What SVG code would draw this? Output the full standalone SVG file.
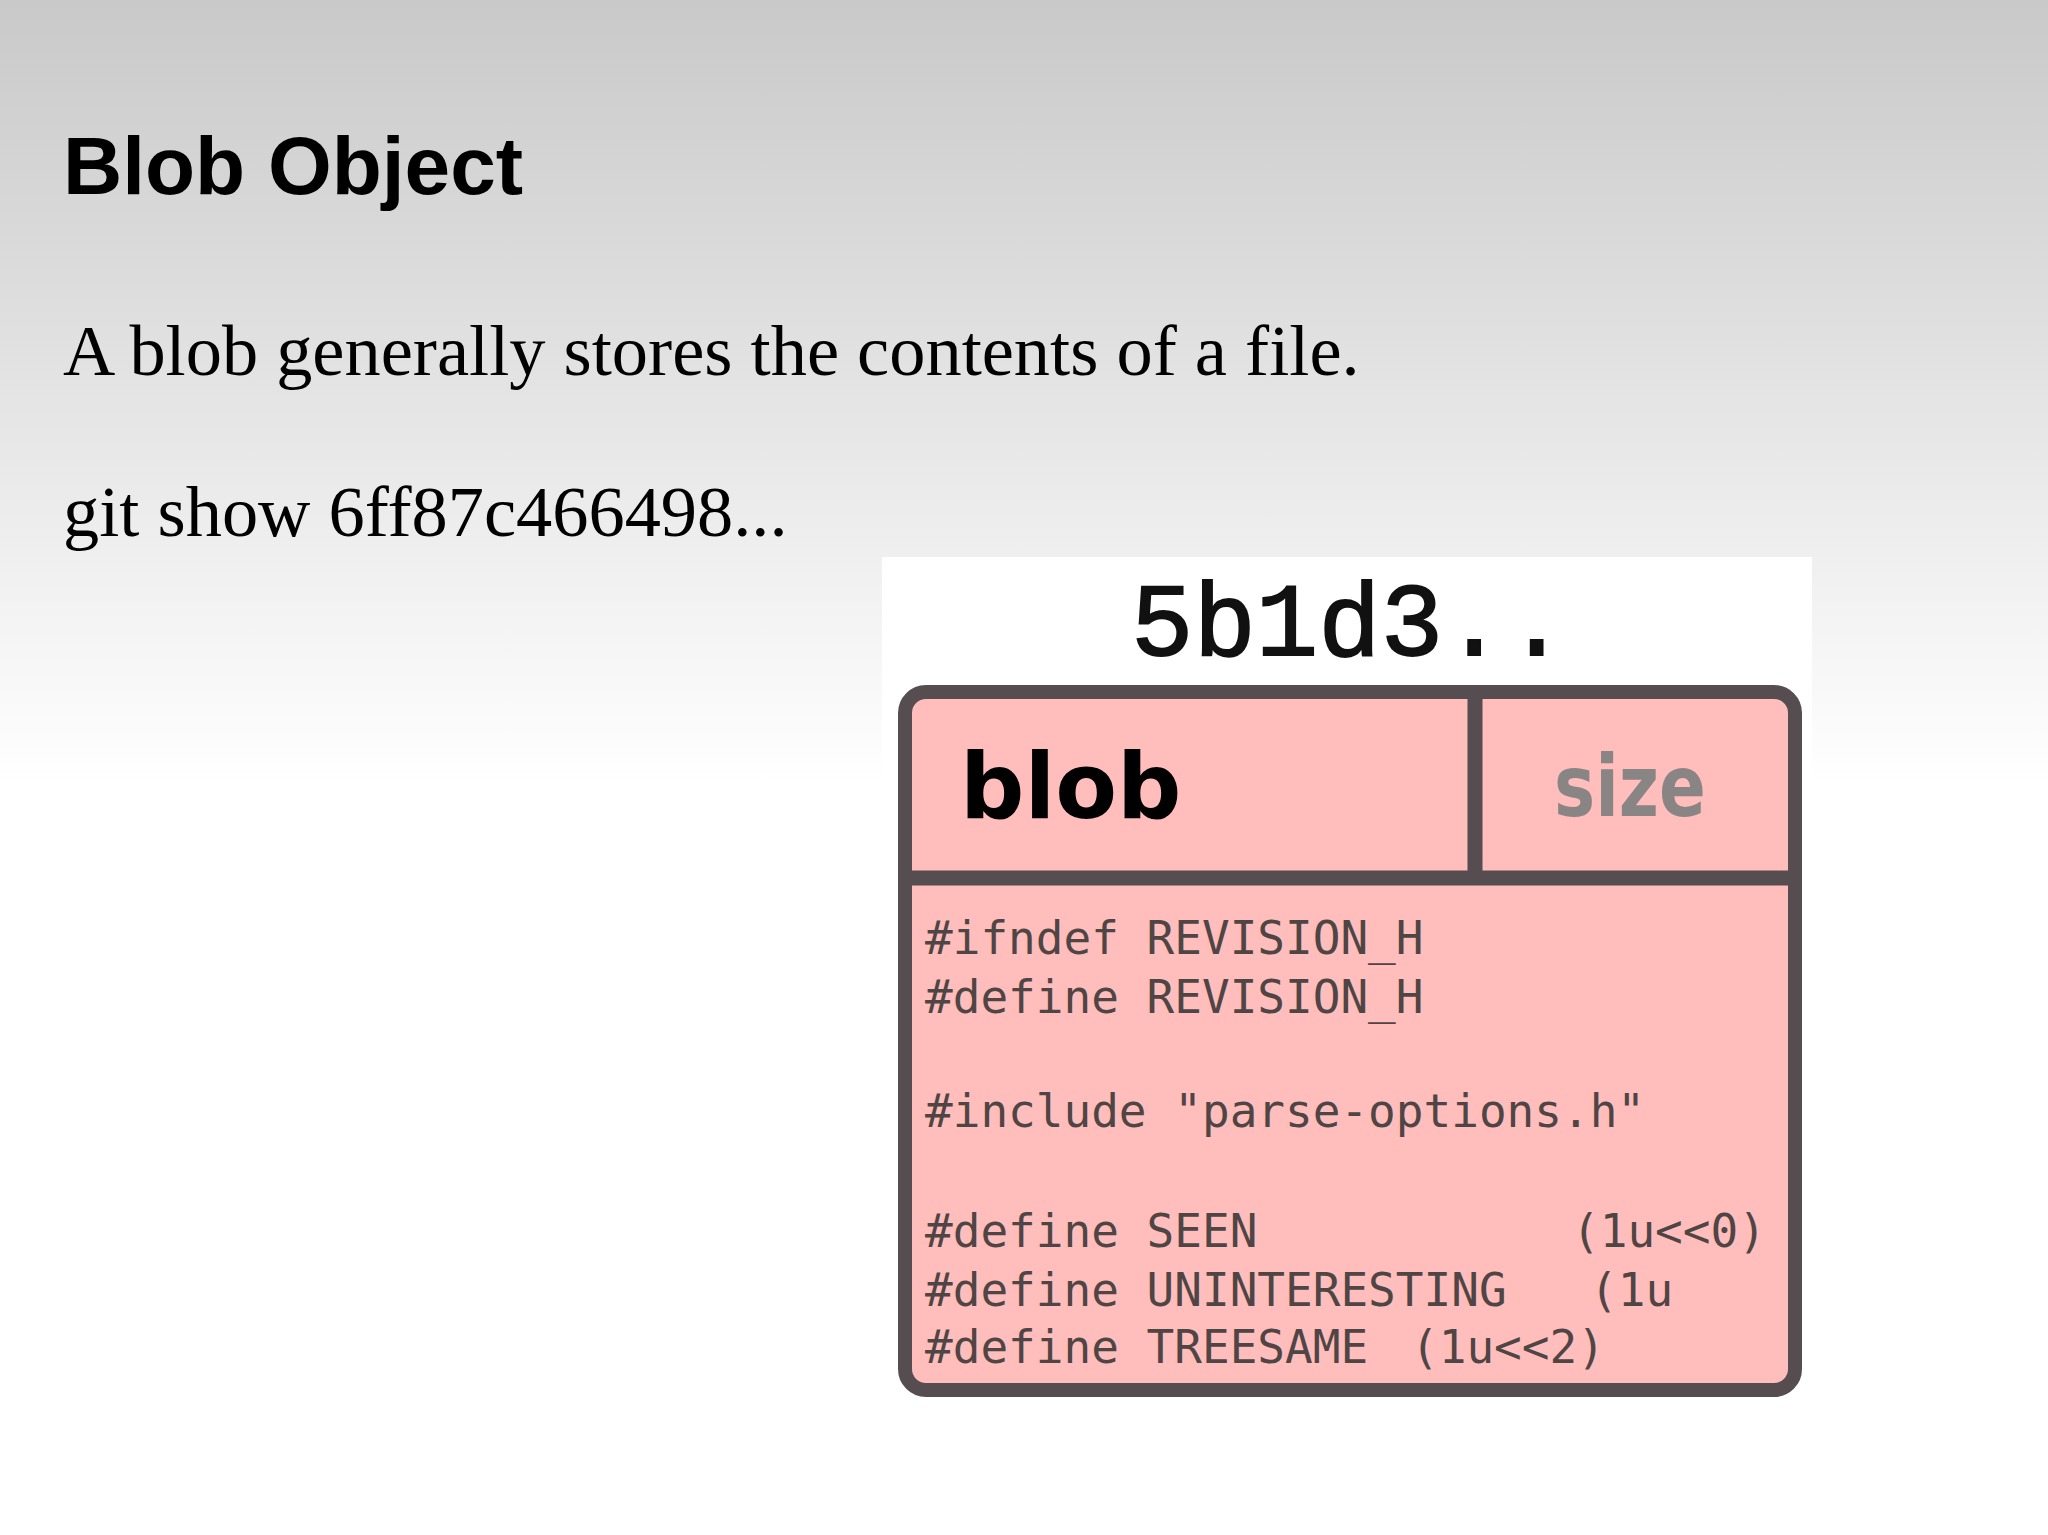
<svg xmlns="http://www.w3.org/2000/svg" width="2048" height="1535" viewBox="0 0 2048 1535">
  <defs>
    <linearGradient id="bg" x1="0" y1="0" x2="0" y2="1535" gradientUnits="userSpaceOnUse">
      <stop offset="0" stop-color="#c9c9c9"/>
      <stop offset="0.51" stop-color="#ffffff"/>
      <stop offset="1" stop-color="#ffffff"/>
    </linearGradient>
    <style>
      .title { font-family: "Liberation Sans", Arial, sans-serif; font-weight: bold; font-size: 82px; fill: #000; }
      .body { font-family: "Liberation Serif", "Times New Roman", serif; font-size: 72.4px; fill: #000; }
      .hash { font-family: "Liberation Mono", "Courier New", monospace; font-size: 104px; fill: #111; stroke: #111; stroke-width: 1.8; }
      .border { fill: #ffbdbb; stroke: #554d50; stroke-width: 14; }
      .divider { stroke: #554d50; stroke-width: 15; fill: none; }
      .type { font-family: "DejaVu Sans", Verdana, sans-serif; font-weight: bold; font-size: 90px; fill: #000; }
      .size { font-family: "DejaVu Sans", Verdana, sans-serif; font-weight: bold; font-size: 86px; fill: #8a8585; }
      .code { font-family: "DejaVu Sans Mono", "Liberation Mono", monospace; font-size: 46px; fill: #4f4545; white-space: pre; }
    </style>
  </defs>
  <rect x="0" y="0" width="2048" height="1535" fill="url(#bg)"/>
  <g id="slide-text">
    <text class="title" x="63" y="194">Blob Object</text>
    <text class="body" x="63" y="375">A blob generally stores the contents of a file.</text>
    <text class="body" x="63" y="536">git show 6ff87c466498...</text>
  </g>
  <g id="blob-figure">
    <rect x="882" y="557" width="930" height="863" fill="#ffffff"/>
    <text class="hash" x="1131" y="655">5b1d3..</text>
    <g id="blob-node">
      <rect class="border" x="905" y="692" width="890" height="698" rx="21" ry="21"/>
      <g id="connectors">
        <line class="divider" x1="1475" y1="692" x2="1475" y2="878"/>
        <line class="divider" x1="905" y1="878" x2="1795" y2="878"/>
      </g>
      <text class="type" x="960" y="818">blob</text>
      <text class="size" x="1554" y="816" textLength="152" lengthAdjust="spacingAndGlyphs">size</text>
      <text class="code" x="925" y="954">#ifndef REVISION_H</text>
      <text class="code" x="925" y="1013">#define REVISION_H</text>
      <text class="code" x="925" y="1127">#include "parse-options.h"</text>
      <text class="code" x="925" y="1247">#define SEEN</text>
      <text class="code" x="1572" y="1247">(1u&lt;&lt;0)</text>
      <text class="code" x="925" y="1306">#define UNINTERESTING</text>
      <text class="code" x="1590" y="1306">(1u</text>
      <text class="code" x="925" y="1363">#define TREESAME</text>
      <text class="code" x="1411" y="1363">(1u&lt;&lt;2)</text>
    </g>
  </g>
</svg>
